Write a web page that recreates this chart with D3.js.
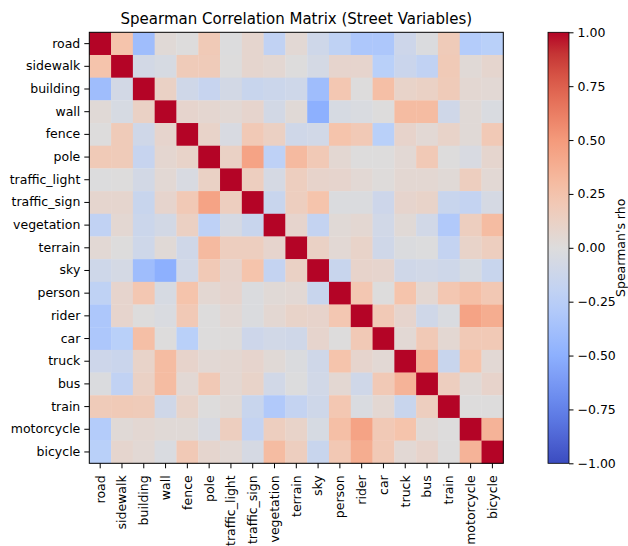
<!DOCTYPE html>
<html lang="en">
<head>
<meta charset="UTF-8"/>
<title>Spearman Correlation Matrix</title>
<script src="https://d3js.org/d3.v7.min.js"></script>
<style>
	body { margin: 0; background: #fff; }
	text { font-family: "DejaVu Sans", sans-serif; fill: #000; }
</style>
</head>
<body>
<script>
var w = 628;
var h = 546;

// variable names (rows and columns)
var variables = ["road", "sidewalk", "building", "wall", "fence", "pole", "traffic_light",
	"traffic_sign", "vegetation", "terrain", "sky", "person", "rider", "car", "truck",
	"bus", "train", "motorcycle", "bicycle"];

// correlation values, one row per variable
var rhoRoad        = [1, 0.25, -0.4, 0.03, 0.0, 0.19, -0.01, 0.07, -0.2, 0.04, -0.11, -0.21, -0.32, -0.32, -0.12, -0.02, 0.18, -0.28, -0.25];
var rhoSidewalk    = [0.25, 1, -0.08, -0.05, 0.18, 0.18, 0.0, 0.07, 0.05, 0.0, -0.07, 0.08, 0.08, -0.25, -0.14, -0.2, 0.19, 0.03, 0.07];
var rhoBuilding    = [-0.4, -0.08, 1, 0.12, -0.1, -0.16, -0.08, -0.15, -0.13, -0.11, -0.4, 0.22, 0.0, 0.28, 0.1, 0.12, 0.18, 0.05, 0.04];
var rhoWall        = [0.03, -0.05, 0.12, 1, 0.08, 0.06, 0.04, 0.08, -0.08, 0.03, -0.5, -0.05, -0.03, 0.0, 0.3, 0.3, -0.1, 0.03, -0.03];
var rhoFence       = [0.0, 0.18, -0.1, 0.08, 1, 0.1, -0.04, 0.2, 0.13, -0.1, -0.09, 0.25, 0.2, -0.25, 0.09, 0.04, 0.1, 0.03, 0.2];
var rhoPole        = [0.19, 0.18, -0.16, 0.06, 0.1, 1, 0.12, 0.45, -0.22, 0.31, 0.2, 0.05, 0.0, 0.0, 0.04, 0.2, 0.0, -0.04, 0.07];
var rhoTrafficLight= [-0.01, 0.0, -0.08, 0.04, -0.04, 0.12, 1, 0.15, -0.06, 0.15, 0.09, 0.08, 0.04, 0.01, 0.05, 0.05, 0.03, 0.15, 0.04];
var rhoTrafficSign = [0.07, 0.07, -0.15, 0.08, 0.2, 0.45, 0.15, 1, -0.15, 0.15, 0.25, -0.02, -0.02, -0.12, 0.08, 0.1, -0.15, -0.18, -0.06];
var rhoVegetation  = [-0.2, 0.05, -0.13, -0.08, 0.13, -0.22, -0.06, -0.15, 1, 0.08, -0.18, 0.03, 0.05, -0.09, 0.03, -0.09, -0.3, 0.15, 0.3];
var rhoTerrain     = [0.04, 0.0, -0.11, 0.03, -0.1, 0.31, 0.15, 0.15, 0.08, 1, 0.12, 0.04, 0.1, -0.1, -0.02, -0.01, -0.18, 0.1, 0.15];
var rhoSky         = [-0.11, -0.07, -0.4, -0.5, -0.09, 0.2, 0.09, 0.25, -0.18, 0.12, 1, -0.15, 0.09, 0.08, -0.1, -0.09, -0.11, -0.05, -0.15];
var rhoPerson      = [-0.21, 0.08, 0.22, -0.05, 0.25, 0.05, 0.08, -0.02, 0.03, 0.04, -0.15, 1, 0.22, 0.0, 0.25, 0.05, 0.22, 0.28, 0.21];
var rhoRider       = [-0.32, 0.08, 0.0, -0.03, 0.2, 0.0, 0.04, -0.02, 0.05, 0.1, 0.09, 0.22, 1, 0.2, 0.08, -0.1, -0.03, 0.45, 0.39];
var rhoCar         = [-0.32, -0.25, 0.28, 0.0, -0.25, 0.0, 0.01, -0.12, -0.09, -0.1, 0.08, 0.0, 0.2, 1, 0.04, 0.2, 0.05, 0.2, 0.2];
var rhoTruck       = [-0.12, -0.14, 0.1, 0.3, 0.09, 0.04, 0.05, 0.08, 0.03, -0.02, -0.1, 0.25, 0.08, 0.04, 1, 0.35, -0.15, 0.25, 0.04];
var rhoBus         = [-0.02, -0.2, 0.12, 0.3, 0.04, 0.2, 0.05, 0.1, -0.09, -0.01, -0.09, 0.05, -0.1, 0.2, 0.35, 1, 0.15, 0.03, 0.09];
var rhoTrain       = [0.18, 0.19, 0.18, -0.1, 0.1, 0.0, 0.03, -0.15, -0.3, -0.18, -0.11, 0.22, -0.03, 0.05, -0.15, 0.15, 1, 0.0, 0.0];
var rhoMotorcycle  = [-0.28, 0.03, 0.05, 0.03, 0.03, -0.04, 0.15, -0.18, 0.15, 0.1, -0.05, 0.28, 0.45, 0.2, 0.25, 0.03, 0.0, 1, 0.35];
var rhoBicycle     = [-0.25, 0.07, 0.04, -0.03, 0.2, 0.07, 0.04, -0.06, 0.3, 0.15, -0.15, 0.21, 0.39, 0.2, 0.04, 0.09, 0.0, 0.35, 1];

var rhoRows = [rhoRoad, rhoSidewalk, rhoBuilding, rhoWall, rhoFence, rhoPole, rhoTrafficLight,
	rhoTrafficSign, rhoVegetation, rhoTerrain, rhoSky, rhoPerson, rhoRider, rhoCar, rhoTruck,
	rhoBus, rhoTrain, rhoMotorcycle, rhoBicycle];

// colorbar ticks
var cbTicks = [-1, -0.75, -0.5, -0.25, 0, 0.25, 0.5, 0.75, 1];

// flatten to cells
var cells = [];
for (var i = 0; i < rhoRows.length; i++) {
	for (var j = 0; j < rhoRows[i].length; j++) {
		cells.push({row: variables[i], col: variables[j], value: rhoRows[i][j]});
	}
}

// plot area
var plotL = 89.3, plotR = 503.3, plotT = 32.3, plotB = 463.3;
var fs = "12.5px";

// coolwarm approximation
var cwStops = ["#3b4cc0", "#6282ea", "#8db0fe", "#b9d0f9", "#dddcdc", "#f5c4ac", "#f49a7b", "#de604d", "#b40426"];
var cwInterp = d3.piecewise(d3.interpolateLab, cwStops);
var color = d3.scaleSequential(cwInterp).domain([-1, 1]);

var xScale = d3.scaleBand().domain(variables).range([plotL, plotR]);
var yScale = d3.scaleBand().domain(variables).range([plotT, plotB]);

var svg = d3.select("body")
	.append("svg")
	.attr("width", w)
	.attr("height", h);

// cells
svg.selectAll("rect.cell")
	.data(cells)
	.enter()
	.append("rect")
	.attr("class", "cell")
	.attr("x", function(d){ return xScale(d.col); })
	.attr("y", function(d){ return yScale(d.row); })
	.attr("width", xScale.bandwidth() + 0.3)
	.attr("height", yScale.bandwidth() + 0.3)
	.attr("fill", function(d){ return color(d.value); });

// axes
var yAxis = d3.axisLeft(yScale).tickSize(5).tickPadding(4);
var xAxis = d3.axisBottom(xScale).tickSize(5).tickPadding(4);

var gy = svg.append("g")
	.attr("transform", "translate(" + plotL + ",0)")
	.call(yAxis);
gy.select(".domain").remove();
gy.selectAll("text").style("font-size", fs).attr("fill", "#000");

var gx = svg.append("g")
	.attr("transform", "translate(0," + plotB + ")")
	.call(xAxis);
gx.select(".domain").remove();
gx.selectAll("text")
	.style("font-size", fs)
	.attr("fill", "#000")
	.attr("transform", "rotate(-90)")
	.attr("text-anchor", "end")
	.attr("x", -12)
	.attr("y", 0)
	.attr("dy", "0.35em");

// frame
svg.append("rect")
	.attr("x", plotL)
	.attr("y", plotT)
	.attr("width", plotR - plotL)
	.attr("height", plotB - plotT)
	.attr("fill", "none")
	.attr("stroke", "#000")
	.attr("stroke-width", 1);

// title
svg.append("text")
	.attr("x", (plotL + plotR) / 2)
	.attr("y", 24)
	.attr("text-anchor", "middle")
	.style("font-size", "15px")
	.text("Spearman Correlation Matrix (Street Variables)");

// colorbar
var cbX = 548, cbW = 21;
var cbScale = d3.scaleLinear().domain([-1, 1]).range([plotB, plotT]);

var grad = svg.append("defs").append("linearGradient")
	.attr("id", "cw")
	.attr("x1", "0").attr("y1", "1").attr("x2", "0").attr("y2", "0");
d3.range(0, 1.0001, 0.05).forEach(function(t){
	grad.append("stop")
		.attr("offset", t)
		.attr("stop-color", cwInterp(t));
});

svg.append("rect")
	.attr("x", cbX)
	.attr("y", plotT)
	.attr("width", cbW)
	.attr("height", plotB - plotT)
	.attr("fill", "url(#cw)")
	.attr("stroke", "#000")
	.attr("stroke-width", 0.8);

var cbAxis = d3.axisRight(cbScale)
	.tickValues(cbTicks)
	.tickFormat(d3.format(".2f"))
	.tickSize(4.5)
	.tickPadding(4);

var gc = svg.append("g")
	.attr("transform", "translate(" + (cbX + cbW) + ",0)")
	.call(cbAxis);
gc.select(".domain").remove();
gc.selectAll("text").style("font-size", fs).attr("fill", "#000");

svg.append("text")
	.attr("transform", "translate(624.5," + ((plotT + plotB) / 2) + ") rotate(-90)")
	.attr("text-anchor", "middle")
	.style("font-size", fs)
	.text("Spearman's rho");
</script>
</body>
</html>
